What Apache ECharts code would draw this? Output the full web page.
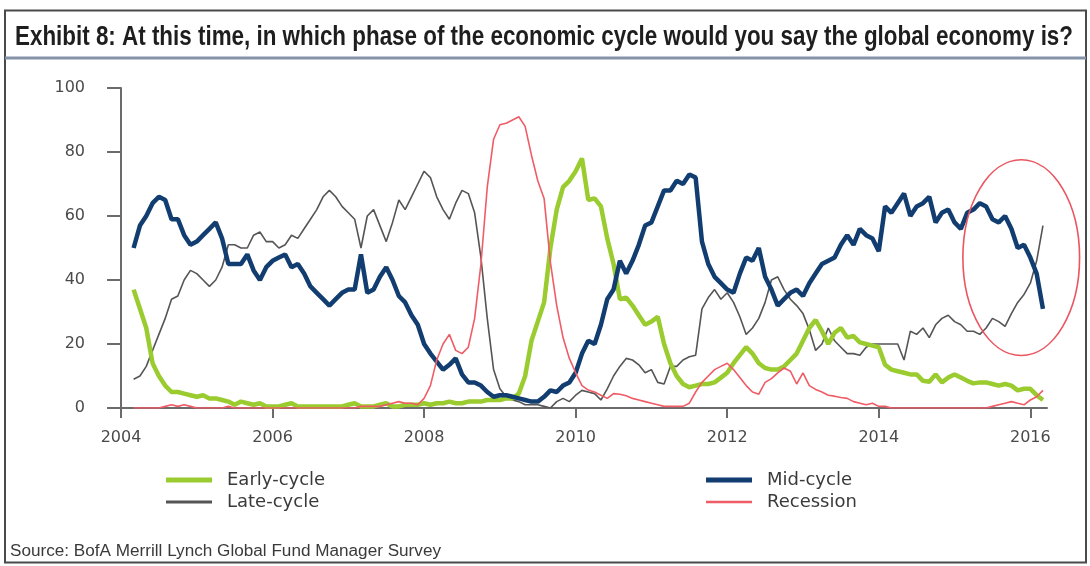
<!DOCTYPE html>
<html>
<head>
<meta charset="utf-8">
<script src="https://cdn.jsdelivr.net/npm/echarts@6/dist/echarts.min.js"></script>
<style>
  html, body { margin: 0; padding: 0; background: #ffffff; }
  #chart { width: 1090px; height: 566px; }
</style>
</head>
<body>
<div id="chart"></div>
<script>
// Monthly survey readings, March 2004 to March 2016 (% of respondents)
const firstMonth = { year: 2004, month: 3 };
const yearTicks = [2004, 2006, 2008, 2010, 2012, 2014, 2016];
const valueTicks = [0, 20, 40, 60, 80, 100];
const seriesNames = ['Early-cycle', 'Late-cycle', 'Mid-cycle', 'Recession'];

const earlyCycle = [
  37, 31, 25, 14, 10, 7, 5, 5, 4.5, 4,
  3.5, 4, 3, 3, 2.5, 2, 1, 2, 1.5, 1,
  1.5, 0.5, 0.5, 0.5, 1, 1.5, 0.5, 0.5, 0.5, 0.5,
  0.5, 0.5, 0.5, 0.5, 1, 1.5, 0.5, 0.5, 0.5, 1,
  1.5, 0.5, 0.5, 1, 1, 1, 1.5, 1, 1.5, 1.5,
  2, 1.5, 1.5, 2, 2, 2, 2.5, 2.5, 2.5, 3,
  3, 4.5, 10, 21, 27, 33, 50, 62, 69, 71,
  74, 78, 65, 65.5, 63, 53, 45, 34, 34.5, 32,
  29, 26, 27, 28.5, 20, 14, 10, 7.5, 6.5, 7,
  7.5, 7.5, 8, 9.5, 11, 14, 16.5, 19, 17, 14,
  12.5, 12, 12, 13, 15, 17, 21, 25, 27.5, 24,
  20, 23.5, 25, 22, 22.5, 20.5, 20, 19.5, 19, 13.5,
  12, 11.5, 11, 10.5, 10.5, 8.5, 8.2, 10.5, 8, 9.5,
  10.5, 9.5, 8.5, 7.7, 8, 8, 7.5, 7, 7.5, 7,
  5.5, 6, 6, 4, 2.5
];

const lateCycle = [
  9, 10, 13, 18, 23, 28, 34, 35, 40, 43,
  42, 40, 38, 40, 44, 51, 51, 50, 50, 54,
  55, 52, 52, 50, 51, 54, 53, 56, 59, 62,
  66, 68, 66, 63, 61, 59, 50, 60, 62, 57,
  52, 58, 65, 62, 66, 70, 74, 72, 66, 62,
  59, 64, 68, 67, 61, 47, 28, 12, 6, 3.5,
  2.5, 2, 1, 1, 1, 0.5, 0, 2, 3, 2,
  4, 5.5, 5, 4.5, 2.5, 6, 10, 13, 15.5, 15,
  13.5, 11, 12, 8, 7.5, 13, 13, 15, 16, 16.5,
  31, 34.5, 37, 34, 36, 33, 28.5, 23, 25, 28,
  33, 40, 41, 37, 34, 32, 29.5, 24.5, 18, 20,
  25, 21, 19, 17, 17, 16.5, 19, 20, 20, 20,
  20, 20, 15, 24, 23, 25, 22, 26, 28, 29,
  27, 26, 24, 24, 23, 25, 28, 27, 25.5, 29.5,
  33, 35.5, 39, 46, 57
];

const midCycle = [
  50, 57, 60, 64, 66, 65, 59, 59, 54, 51,
  52, 54, 56, 58, 53, 45, 45, 45, 48, 43,
  40, 44, 46, 47, 48, 44, 45, 42, 38, 36,
  34, 32, 34, 36, 37, 37, 48, 36, 37, 41,
  44, 40, 35, 33, 29, 26, 20, 17, 14.5, 12,
  13.5, 15.5, 10.5, 8, 8, 7, 5, 3.5, 4, 4,
  3.5, 3, 2.5, 2, 2, 3.5, 5.5, 5, 7, 8,
  11, 17, 21, 20, 26, 34, 37, 46, 42, 46,
  51, 57, 58, 63, 68, 68, 71, 70, 73, 72,
  52, 45, 41, 39, 37, 36, 42, 47, 46, 50,
  41, 37, 32, 34, 36, 37, 35, 39, 42, 45,
  46, 47, 51, 54, 51, 56, 54, 53, 49, 63,
  61, 64, 67, 60, 63, 64, 66, 58, 61, 62,
  58, 56, 61, 62, 64, 63, 59, 58, 60, 56,
  50, 51, 47, 42, 31
];

const recession = [
  0, 0, 0, 0, 0, 0.5, 1, 0.5, 1, 0.5,
  0, 0, 0, 0, 0, 0.5, 0, 0, 0, 0,
  0, 0, 0, 0, 0, 0, 0, 0, 0, 0,
  0, 0, 0, 0, 0, 0, 0.5, 0.5, 0.5, 0.5,
  1, 1.5, 2, 1.5, 1.5, 1, 3, 7, 15, 20,
  23, 18, 17, 19, 28, 45, 69, 84, 88.5, 89,
  90, 91, 88, 79, 71, 65.5, 45.5, 32, 22, 15.5,
  11, 7, 5.6, 5, 4, 3, 4.5, 4.3, 3.8, 3,
  2.5, 2, 1.5, 1, 0.5, 0.5, 0.5, 0.5, 1.5, 5,
  8, 10, 12, 13, 14, 12, 9.5, 7, 5, 4.3,
  8, 9.2, 11, 12.5, 11.5, 7.5, 11, 7, 5.8, 5,
  4, 3.7, 3.3, 3, 2, 1.5, 1, 1.5, 0.5, 0.5,
  0, 0, 0, 0, 0, 0, 0, 0, 0, 0,
  0, 0, 0, 0, 0, 0, 0.5, 1, 1.5, 2,
  1.5, 1, 2.5, 3.5, 5.5
];

// Highlighted region around the latest readings (axis units: years, %)
const focusRing = { x: 2015.88, y: 47, rx: 0.77, ry: 30.6 };

const titleText = 'Exhibit 8: At this time, in which phase of the economic cycle would you say the global economy is?';
const sourceText = 'Source: BofA Merrill Lynch Global Fund Manager Survey';

// Month positions on the year axis
const monthPositions = earlyCycle.map((_, i) => firstMonth.year + (firstMonth.month - 1 + i) / 12);
const pairs = values => values.map((v, i) => [monthPositions[i], v]);

const colors = {
  early: '#9acb2f',
  late: '#555555',
  mid: '#113d70',
  recession: '#f05c66'
};

const labelFont = 'DejaVu Sans';

// Horizontal squeeze so a regular face fills a fixed width like a condensed one
const measureCtx = document.createElement('canvas').getContext('2d');
function squeezeTo(text, font, targetWidth) {
  measureCtx.font = font;
  return targetWidth / measureCtx.measureText(text).width;
}
const titleFontSize = 27;
const titleScale = squeezeTo(titleText, 'bold ' + titleFontSize + 'px "Liberation Sans"', 1058);
const sourceFontSize = 16;
const sourceScale = squeezeTo(sourceText, sourceFontSize + 'px "Liberation Sans"', 431);

function legendItem(name, left, top, thickness, color) {
  return {
    orient: 'vertical',
    left: left,
    top: top,
    icon: 'rect',
    itemWidth: 46,
    itemHeight: thickness,
    selectedMode: false,
    data: [{ name: name, itemStyle: { color: color } }],
    textStyle: { fontFamily: labelFont, fontSize: 18, color: '#3a3a3a', lineHeight: 14, padding: [0, 0, 0, 10] }
  };
}

const chart = echarts.init(document.getElementById('chart'), null, { renderer: 'canvas' });

chart.setOption({
  animation: false,
  backgroundColor: '#ffffff',
  grid: { left: 121, top: 88, width: 926, height: 320, containLabel: false },
  xAxis: {
    type: 'value',
    min: 2004,
    max: 2016.22,
    axisLine: { show: true, lineStyle: { color: '#6b6b6b', width: 2 } },
    axisTick: { show: true, length: 10, customValues: yearTicks, lineStyle: { color: '#6b6b6b', width: 2 } },
    axisLabel: { customValues: yearTicks, margin: 22, fontFamily: labelFont, fontSize: 16, color: '#4a4a4a', formatter: v => String(v) },
    splitLine: { show: false }
  },
  yAxis: {
    type: 'value',
    min: valueTicks[0],
    max: valueTicks[valueTicks.length - 1],
    interval: 20,
    axisLine: { show: true, lineStyle: { color: '#6b6b6b', width: 2 } },
    axisTick: { show: true, length: 14, lineStyle: { color: '#6b6b6b', width: 2 } },
    axisLabel: { margin: 36, fontFamily: labelFont, fontSize: 16, color: '#4a4a4a' },
    splitLine: { show: false }
  },
  legend: [
    legendItem(seriesNames[0], 161, 466, 5, colors.early),
    legendItem(seriesNames[1], 161, 488, 3, colors.late),
    legendItem(seriesNames[2], 701, 466, 5, colors.mid),
    legendItem(seriesNames[3], 701, 488, 2.5, colors.recession)
  ],
  series: [
    {
      name: seriesNames[1], type: 'line', data: pairs(lateCycle), symbol: 'none',
      lineStyle: { color: colors.late, width: 1.6 }, itemStyle: { color: colors.late }, z: 2
    },
    {
      name: seriesNames[0], type: 'line', data: pairs(earlyCycle), symbol: 'none',
      lineStyle: { color: colors.early, width: 4.5 }, itemStyle: { color: colors.early }, z: 3
    },
    {
      name: seriesNames[2], type: 'line', data: pairs(midCycle), symbol: 'none',
      lineStyle: { color: colors.mid, width: 4.5 }, itemStyle: { color: colors.mid }, z: 4
    },
    {
      name: seriesNames[3], type: 'line', data: pairs(recession), symbol: 'none',
      lineStyle: { color: colors.recession, width: 1.6 }, itemStyle: { color: colors.recession }, z: 5
    }
  ],
  graphic: [
    {
      type: 'rect', id: 'frame', silent: true, z: 0,
      shape: { x: 5, y: 10.5, width: 1081, height: 552 },
      style: { fill: 'none', stroke: '#4a4a4a', lineWidth: 2 }
    },
    {
      type: 'text', id: 'title', silent: true,
      x: 15, y: 38, scaleX: titleScale,
      style: {
        text: titleText,
        fontFamily: 'Liberation Sans',
        fontWeight: 'bold', fontSize: titleFontSize, fill: '#1e1e1e',
        verticalAlign: 'middle', align: 'left'
      }
    },
    {
      type: 'line', id: 'titleRule', silent: true,
      shape: { x1: 5, y1: 58, x2: 1086, y2: 58 },
      style: { stroke: '#8492aa', lineWidth: 3 }
    },
    {
      type: 'text', id: 'source', silent: true,
      x: 10, y: 552, scaleX: sourceScale,
      style: {
        text: sourceText,
        fontFamily: 'Liberation Sans', fontSize: sourceFontSize, fill: '#3a3a3a',
        verticalAlign: 'middle', align: 'left'
      }
    }
  ]
});

// Ring drawn in axis coordinates so it follows the scales
const centre = chart.convertToPixel({ gridIndex: 0 }, [focusRing.x, focusRing.y]);
const corner = chart.convertToPixel({ gridIndex: 0 }, [focusRing.x + focusRing.rx, focusRing.y + focusRing.ry]);
chart.setOption({
  graphic: [{
    type: 'ellipse', id: 'focusRing', silent: true, z: 10,
    shape: { cx: centre[0], cy: centre[1], rx: corner[0] - centre[0], ry: centre[1] - corner[1] },
    style: { fill: 'none', stroke: '#ea5560', lineWidth: 1.6 }
  }]
});
</script>
</body>
</html>
